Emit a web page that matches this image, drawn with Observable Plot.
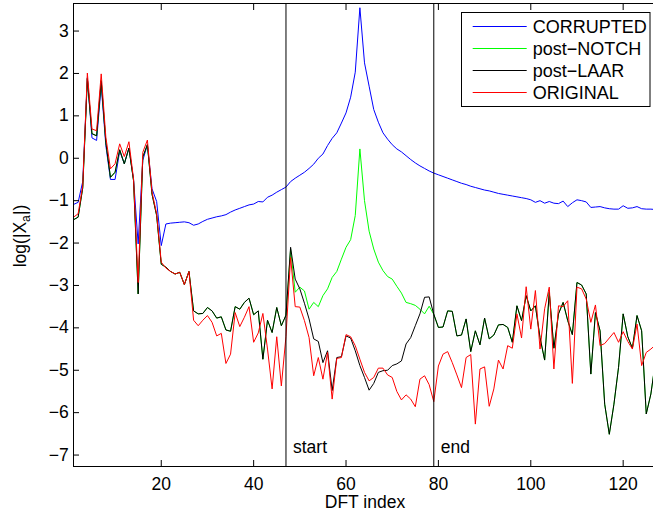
<!DOCTYPE html>
<html><head><meta charset="utf-8">
<script src="https://cdn.jsdelivr.net/npm/d3@7"></script>
<script src="https://cdn.jsdelivr.net/npm/@observablehq/plot@0.6"></script>
<style>
html,body{margin:0;padding:0;background:#fff;}
#chart svg{display:block;}
</style>
</head><body><div id="chart"></div>
<script>
// DFT index 1..127
const dftIndex = d3.range(1, 128);

const corrupted = [
-1.09,-1.04,-0.55,1.9,0.48,0.42,1.72,0.3,-0.5,-0.5,
0.17,-0.13,0.24,-0.5,-2.02,-0.05,0.32,-0.72,-1.02,-2.06,
-1.55,-1.53,-1.52,-1.51,-1.5,-1.52,-1.58,-1.55,-1.49,-1.44,
-1.41,-1.38,-1.36,-1.33,-1.27,-1.22,-1.18,-1.14,-1.1,-1.08,
-1.02,-1.03,-0.92,-0.87,-0.8,-0.74,-0.68,-0.55,-0.47,-0.4,
-0.33,-0.24,-0.14,0.0,0.1,0.3,0.47,0.6,0.83,1.07,
1.44,2.03,3.55,2.25,1.7,1.15,0.85,0.6,0.45,0.32,
0.22,0.15,0.06,-0.03,-0.11,-0.18,-0.24,-0.3,-0.35,-0.39,
-0.43,-0.47,-0.51,-0.55,-0.59,-0.62,-0.66,-0.69,-0.72,-0.75,
-0.77,-0.8,-0.83,-0.85,-0.87,-0.89,-0.91,-0.93,-0.95,-0.98,
-1.04,-1.0,-1.06,-1.02,-1.06,-1.07,-1.01,-1.14,-1.05,-0.98,
-1.0,-1.03,-1.16,-1.15,-1.14,-1.17,-1.19,-1.2,-1.2,-1.12,
-1.18,-1.17,-1.14,-1.19,-1.2,-1.2,-1.21
];

const postNotch = [
-1.45,-1.39,-0.7,1.88,0.58,0.53,1.83,0.38,-0.45,-0.33,
0.2,-0.13,0.24,-0.53,-3.2,0.03,0.32,-0.85,-1.35,-2.5,
-2.57,-2.67,-2.73,-2.69,-2.98,-2.67,-3.6,-3.67,-3.66,-3.52,
-3.6,-3.77,-3.74,-4.05,-4.08,-3.5,-3.56,-3.4,-3.3,-3.69,
-3.6,-4.74,-3.82,-4.11,-3.52,-3.95,-3.7,-2.15,-3.16,-3.04,
-3.13,-3.56,-3.4,-3.5,-3.24,-3.08,-2.81,-2.67,-2.38,-2.1,
-1.92,-1.35,0.22,-1.0,-1.72,-2.14,-2.45,-2.65,-2.79,-2.85,
-3.02,-3.18,-3.4,-3.43,-3.47,-3.56,-3.67,-3.49,-3.68,-3.99,
-3.98,-3.6,-3.61,-4.19,-4.17,-3.79,-4.56,-4.07,-4.4,-3.77,
-4.26,-4.17,-3.93,-3.92,-3.99,-4.34,-3.48,-3.83,-3.24,-3.6,
-3.48,-4.23,-4.76,-3.16,-4.48,-3.67,-3.4,-3.83,-4.16,-2.93,
-2.99,-3.2,-5.09,-3.64,-4.07,-5.8,-6.51,-5.8,-4.93,-3.67,
-4.21,-4.48,-3.71,-4.07,-6.03,-5.56,-4.78
];

const postLaar = [
-1.45,-1.39,-0.7,1.88,0.58,0.53,1.83,0.38,-0.45,-0.33,
0.2,-0.13,0.24,-0.53,-3.2,0.03,0.32,-0.85,-1.35,-2.5,
-2.57,-2.67,-2.73,-2.69,-2.98,-2.67,-3.6,-3.67,-3.66,-3.52,
-3.6,-3.77,-3.74,-4.05,-4.08,-3.5,-3.56,-3.4,-3.3,-3.69,
-3.6,-4.74,-3.82,-4.11,-3.52,-3.95,-3.7,-2.1,-2.85,-3.08,
-3.42,-3.79,-4.26,-4.32,-4.82,-4.54,-5.48,-4.7,-4.68,-4.19,
-4.24,-4.54,-4.89,-5.17,-5.47,-5.31,-5.05,-5.01,-5.0,-4.89,
-4.85,-4.78,-4.38,-4.23,-3.95,-3.67,-3.28,-3.27,-3.68,-3.99,
-3.98,-3.6,-3.61,-4.19,-4.17,-3.79,-4.56,-4.07,-4.4,-3.77,
-4.26,-4.17,-3.93,-3.92,-3.99,-4.34,-3.48,-3.83,-3.24,-3.6,
-3.48,-4.23,-4.76,-3.16,-4.48,-3.67,-3.4,-3.83,-4.16,-2.93,
-2.99,-3.2,-5.09,-3.64,-4.07,-5.8,-6.51,-5.8,-4.93,-3.67,
-4.21,-4.48,-3.71,-4.07,-6.03,-5.56,-4.78
];

const original = [
-1.39,-1.31,-0.65,2.01,0.69,0.65,1.99,0.5,-0.25,-0.13,
0.34,0.04,0.39,-0.49,-2.93,0.14,0.43,-0.8,-1.31,-2.45,
-2.59,-2.67,-2.73,-2.69,-2.98,-2.67,-3.82,-3.95,-3.82,-3.71,
-3.87,-4.19,-4.13,-4.84,-4.62,-3.64,-3.97,-3.75,-3.5,-4.34,
-4.12,-3.66,-4.5,-5.44,-4.21,-5.37,-4.2,-2.34,-3.5,-3.51,
-3.83,-4.23,-5.13,-4.7,-5.21,-4.58,-5.68,-4.72,-4.7,-4.16,
-4.21,-4.42,-4.74,-5.05,-5.25,-5.17,-4.95,-4.95,-5.11,-5.17,
-5.5,-5.7,-5.58,-5.68,-5.86,-5.21,-5.13,-5.34,-5.74,-4.9,
-4.62,-4.56,-4.82,-5.11,-5.41,-4.7,-4.63,-6.27,-4.97,-4.92,
-5.85,-5.44,-4.76,-4.97,-4.42,-4.48,-3.67,-4.24,-3.03,-4.03,
-3.12,-4.5,-3.55,-3.04,-4.97,-3.48,-3.5,-3.36,-5.31,-3.04,
-3.08,-3.32,-3.87,-3.46,-4.42,-4.37,-4.24,-4.11,-4.34,-4.09,
-4.32,-4.5,-3.91,-4.89,-4.58,-4.5,-4.4
];

const seriesNames = ["CORRUPTED", "post\u2212NOTCH", "post\u2212LAAR", "ORIGINAL"];
const seriesColors = ["#0000ff", "#00ff00", "#000000", "#ff0000"];
const seriesValues = [corrupted, postNotch, postLaar, original];

const xTicks = [20, 40, 60, 80, 100, 120];
const yTicks = [-7, -6, -5, -4, -3, -2, -1, 0, 1, 2, 3];
const markerIndex = [47, 79];
const markerLabels = ["start", "end"];
const xLabel = "DFT index";

const FONT = "'Liberation Sans', Arial, Helvetica, sans-serif";
const FS = 17.5;
const LFS = 18;

const lineMarks = seriesValues.map((vals, s) =>
  Plot.line(dftIndex.map((x, i) => ({x, y: vals[i]})), {
    x: "x", y: "y", stroke: seriesColors[s], strokeWidth: 1
  })
);

const plot = Plot.plot({
  width: 653,
  height: 517,
  marginLeft: 73,
  marginRight: -2,
  marginTop: 3,
  marginBottom: 51,
  style: {fontFamily: FONT, fontSize: FS + "px", color: "black", background: "white", overflow: "visible"},
  x: {domain: [1, 127]},
  y: {domain: [-7.27, 3.65]},
  marks: [
    ...lineMarks,
    Plot.ruleX(markerIndex, {x: d => d, stroke: "black", strokeWidth: 1}),
    Plot.text(markerIndex, {x: d => d, text: (d, i) => markerLabels[i], frameAnchor: "bottom",
      dy: -19.5, dx: 7, textAnchor: "start", lineAnchor: "middle", fill: "black", fontSize: FS}),
    Plot.frame({stroke: "black", strokeWidth: 1}),
    Plot.axisX({ticks: xTicks, anchor: "bottom", tickSize: -6, tickPadding: 17, label: null, fontSize: FS}),
    Plot.axisX({ticks: xTicks, anchor: "top", tickSize: -6, tickFormat: () => "", label: null}),
    Plot.axisY({ticks: yTicks, anchor: "left", tickSize: -6, tickPadding: 10.7, label: null, fontSize: FS})
  ]
});

const svg = d3.select(plot);
// x axis label
svg.append("text").attr("x", 365).attr("y", 508.3).attr("text-anchor", "middle")
  .attr("font-family", FONT).attr("font-size", FS).attr("fill", "black").text(xLabel);
// y axis label with subscript
const yl = svg.append("text").attr("transform", "translate(25.5,236) rotate(-90)")
  .attr("text-anchor", "middle").attr("font-family", FONT).attr("font-size", FS).attr("fill", "black");
yl.append("tspan").text("log(|X");
yl.append("tspan").attr("font-size", FS * 0.7).attr("dy", 4.5).text("a");
yl.append("tspan").attr("dy", -4.5).text("|)");

// legend
const lg = svg.append("g").attr("font-family", FONT).attr("font-size", LFS).attr("text-anchor", "start");
lg.append("rect").attr("x", 461.5).attr("y", 12.5).attr("width", 188.5).attr("height", 94)
  .attr("fill", "white").attr("stroke", "black").attr("stroke-width", 1);
seriesNames.forEach((name, i) => {
  const cy = 26.5 + i * 22;
  lg.append("line").attr("x1", 472.7).attr("x2", 526.7).attr("y1", cy).attr("y2", cy)
    .attr("stroke", seriesColors[i]).attr("stroke-width", 1);
  lg.append("text").attr("x", 532.7).attr("y", cy + 6.6).attr("fill", "black")
    .attr("text-anchor", "start").text(name);
});

document.getElementById("chart").appendChild(plot);
</script>
</body></html>
